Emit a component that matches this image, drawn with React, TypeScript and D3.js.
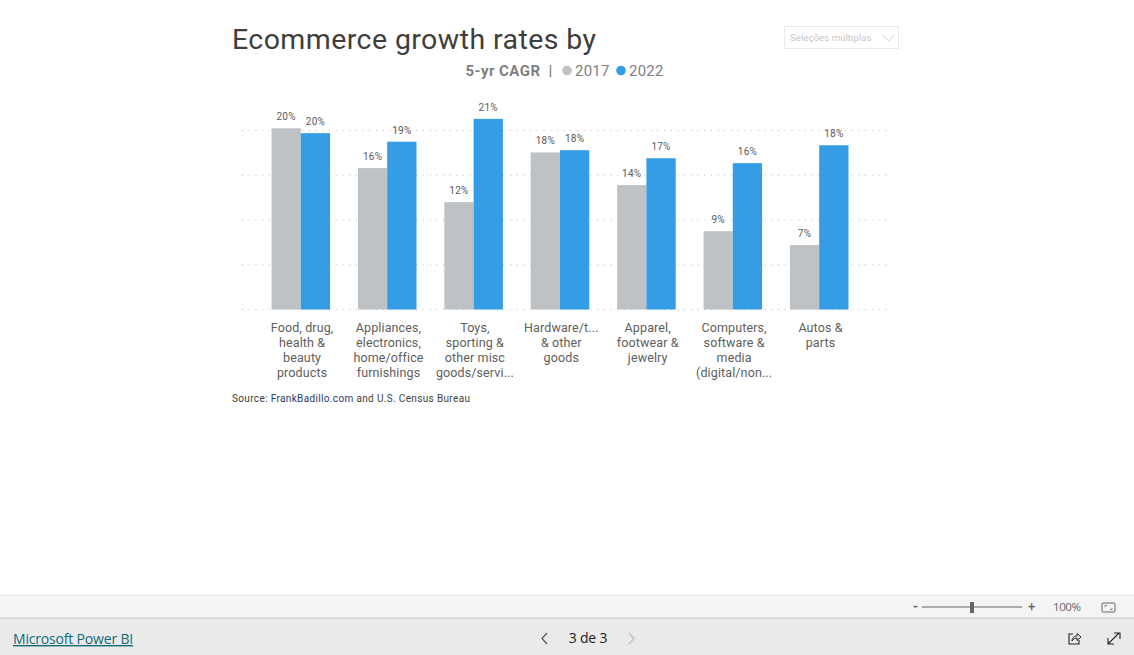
import React from "react";
import * as d3 from "d3";

const categories = ["food", "appliances", "toys", "hardware", "apparel", "computers", "autos"];
const categoryLabels = [
  ["Food, drug,", "health &", "beauty", "products"],
  ["Appliances,", "electronics,", "home/office", "furnishings"],
  ["Toys,", "sporting &", "other misc", "goods/servi..."],
  ["Hardware/t...", "& other", "goods"],
  ["Apparel,", "footwear &", "jewelry"],
  ["Computers,", "software &", "media", "(digital/non..."],
  ["Autos &", "parts"],
];
const values2017 = [20.25, 15.8, 12.0, 17.55, 13.9, 8.75, 7.2];
const values2022 = [19.7, 18.75, 21.3, 17.8, 16.9, 16.35, 18.35];
const labels2017 = ["20%", "16%", "12%", "18%", "14%", "9%", "7%"];
const labels2022 = ["20%", "19%", "21%", "18%", "17%", "16%", "18%"];
const gridValues = [0, 5, 10, 15, 20];

const GRAY = "#BFC2C4";
const BLUE = "#359CE6";
const FONT = "Roboto, sans-serif";

const x = d3.scaleBand<string>().domain(categories).range([257.6, 862.4]).paddingInner(0.322).paddingOuter(0.161);
const y = d3.scaleLinear().domain([0, 20]).range([309.5, 130.5]);
const sub = d3.scaleBand<string>().domain(["2017", "2022"]).range([0, x.bandwidth()]);

export default function App() {
  return (
    <svg width={1134} height={655} style={{ position: "absolute", left: 0, top: 0, background: "#fff" }} fontFamily={FONT}>
      <text x={232} y={49} fontSize={28.5} fill="#403E3C" letterSpacing={0.42}>Ecommerce growth rates by</text>

      <text y={76} fontSize={15} fill="#7F7F7F">
        <tspan x={465.5} fontWeight={700} letterSpacing={0.45}>5-yr CAGR</tspan>
        <tspan x={548.5} fontWeight={700}>|</tspan>
      </text>
      <circle cx={567} cy={70.5} r={4.8} fill={GRAY} />
      <text x={575} y={76} fontSize={15} fill="#7F7F7F" letterSpacing={0.25}>2017</text>
      <circle cx={621} cy={70.5} r={4.8} fill={BLUE} />
      <text x={629} y={76} fontSize={15} fill="#7F7F7F" letterSpacing={0.25}>2022</text>

      <rect x={784.5} y={26.5} width={114} height={22} fill="#fff" stroke="#EAEAEA" />
      <text x={790} y={41} fontSize={9.6} fill="#C8C8C8" letterSpacing={0.06}>Seleções múltiplas</text>
      <path d="M883 35 L888.5 41 L894 35" fill="none" stroke="#D0D0D0" />

      {gridValues.map((v) => (
        <line key={v} x1={242} x2={887} y1={y(v)} y2={y(v)} stroke="#BDBDBD" strokeWidth={1} strokeDasharray="1 5.7" />
      ))}

      {categories.map((c, i) => {
        const x0 = x(c)!;
        const xa = x0 + sub("2017")!;
        const xb = x0 + sub("2022")!;
        const w = sub.bandwidth();
        return (
          <g key={c}>
            <rect x={xa} y={y(values2017[i])} width={w} height={y(0) - y(values2017[i])} fill={GRAY} />
            <rect x={xb} y={y(values2022[i])} width={w} height={y(0) - y(values2022[i])} fill={BLUE} />
            <text x={xa + w / 2} y={y(values2017[i]) - 8} textAnchor="middle" fontSize={10} letterSpacing={0.25} fill="#5A5A5A">{labels2017[i]}</text>
            <text x={xb + w / 2} y={y(values2022[i]) - 8} textAnchor="middle" fontSize={10} letterSpacing={0.25} fill="#5A5A5A">{labels2022[i]}</text>
            {categoryLabels[i].map((line, j) => (
              <text key={j} x={x0 + x.bandwidth() / 2 + 1.3} y={332 + j * 15} textAnchor="middle" fontSize={12.5} letterSpacing={0.12} fill="#605E5C">{line}</text>
            ))}
          </g>
        );
      })}

      <text x={232} y={402} fontSize={10} fill="#403E3C" letterSpacing={0.35}>
        Source: <tspan fill="#2B3A67">FrankBadillo.com</tspan> and U.S. Census Bureau
      </text>

      <rect x={0} y={595} width={1134} height={23} fill="#F4F4F4" />
      <line x1={0} x2={1134} y1={595.5} y2={595.5} stroke="#E3E3E3" />
      <rect x={0} y={618} width={1134} height={37} fill="#EAEAEA" />
      <line x1={0} x2={1134} y1={618} y2={618} stroke="#C8C8C8" />

      <text x={913} y={611} fontSize={13} fill="#555" fontWeight={700}>-</text>
      <line x1={922} x2={1022} y1={607} y2={607} stroke="#666" />
      <rect x={970} y={602} width={4} height={11} fill="#666" />
      <text x={1028} y={611} fontSize={13} fill="#555">+</text>
      <text x={1053} y={611} fontSize={11.5} fill="#666" fontFamily="'Open Sans', sans-serif" letterSpacing={-0.4}>100%</text>
      <rect x={1102} y={603} width={13} height={9} rx={1} fill="none" stroke="#666" />
      <path d="M1105 607 V605.5 H1107 M1112 608 V609.5 H1110" fill="none" stroke="#666" strokeWidth={0.8} />

      <text x={13} y={644} fontSize={14} fill="#0F6B7A" textDecoration="underline" fontFamily="'Open Sans', sans-serif" letterSpacing={-0.18}>Microsoft Power BI</text>

      <path d="M547 633 L542 638.5 L547 644" fill="none" stroke="#555" strokeWidth={1.2} />
      <text x={588} y={643} fontSize={14} fill="#222" textAnchor="middle" fontFamily="'Open Sans', sans-serif" letterSpacing={-0.2}>3 de 3</text>
      <path d="M629 633 L634 638.5 L629 644" fill="none" stroke="#BDBDBD" strokeWidth={1.2} />

      <path d="M1073 634 H1069 V644 H1079 V640" fill="none" stroke="#222" strokeWidth={1.1} />
      <path d="M1072 641 C1072 637 1075 636 1077 636 V633.5 L1081 637 L1077 640.5 V638 C1075 638 1073 639 1072 641 Z" fill="none" stroke="#222" strokeWidth={1} />
      <path d="M1108 644 L1119 633 M1114 633 H1120 V639 M1108 638 V644 H1114" fill="none" stroke="#222" strokeWidth={1.1} />
    </svg>
  );
}
